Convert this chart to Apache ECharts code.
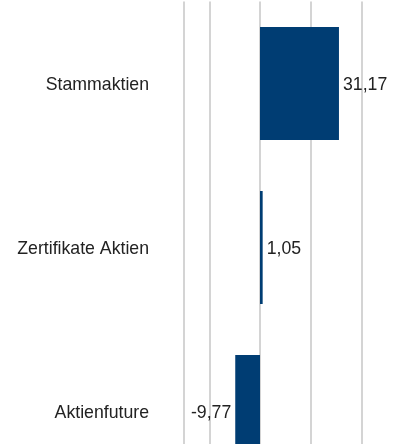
<!DOCTYPE html>
<html>
<head>
<meta charset="utf-8">
<style>
  html, body { margin: 0; padding: 0; background: #fff; }
  #chart { width: 403px; height: 444px; }
</style>
<script src="https://cdn.jsdelivr.net/npm/echarts@6/dist/echarts.min.js"></script>
</head>
<body>
<div id="chart"></div>
<script>
var categories = ['Stammaktien', 'Zertifikate Aktien', 'Aktienfuture'];
var values = [31.17, 1.05, -9.77];

function fmt(v) {
  return v.toFixed(2).replace('.', ',');
}

// gridlines at -30 (plot edge), -20, 0, 20, 40, 60; the odd tens are left out
var grid = '#d4d4d4', none = 'rgba(0,0,0,0)';
var splitColors = [grid, grid, none, grid, none, grid, none, grid, none, grid];

var textStyle = {
  color: '#222',
  fontFamily: 'Liberation Sans, Arial, sans-serif',
  fontSize: 17.7,
  padding: [4, 0, 0, 0]
};

var chart = echarts.init(document.getElementById('chart'));
chart.setOption({
  animation: false,
  grid: {
    left: 184, width: 228, top: 1.5, height: 492,
    containLabel: false,
    outerBoundsMode: 'none'
  },
  xAxis: {
    type: 'value',
    min: -30,
    max: 60,
    interval: 10,
    axisLabel: { show: false },
    axisLine: { show: false },
    axisTick: { show: false },
    splitLine: { show: true, lineStyle: { color: splitColors, width: 2 } }
  },
  yAxis: {
    type: 'category',
    inverse: true,
    data: categories,
    axisLine: { show: false },
    axisTick: { show: false },
    axisLabel: {
      margin: 35,
      formatter: function(v) { return '{t|' + v + '}'; },
      rich: { t: textStyle }
    }
  },
  series: [{
    type: 'bar',
    barWidth: 113,
    data: values.map(function(v) {
      return {
        value: v,
        label: { position: v < 0 ? 'left' : 'right' }
      };
    }),
    itemStyle: { color: '#003d73' },
    label: {
      show: true,
      distance: 4,
      formatter: function(p) { return '{t|' + fmt(p.value) + '}'; },
      rich: { t: textStyle }
    }
  }]
});
</script>
</body>
</html>
